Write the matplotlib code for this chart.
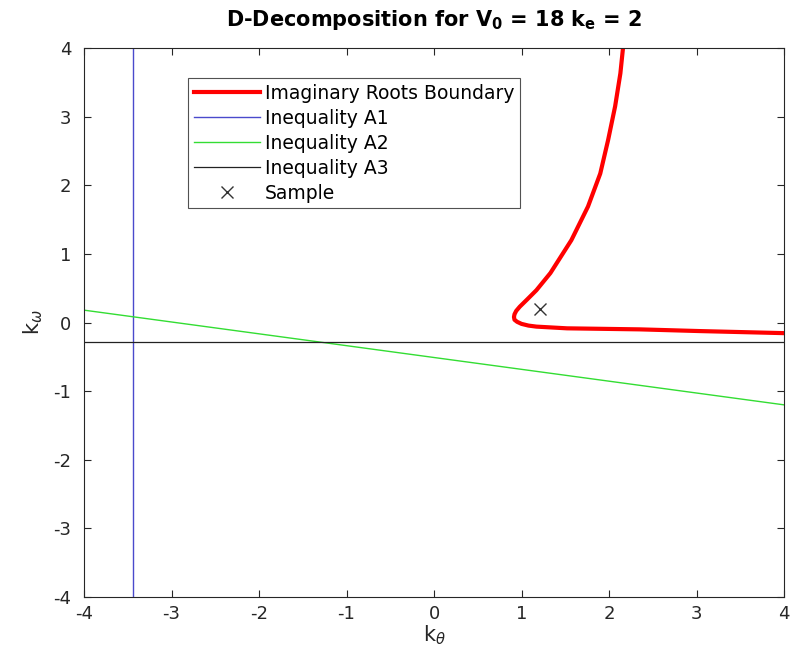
import matplotlib
matplotlib.use("Agg")
import matplotlib.pyplot as plt

# Imaginary roots boundary
boundary_kth = [2.16, 2.13, 2.07, 1.99, 1.90, 1.76, 1.57, 1.33, 1.17, 1.06, 0.98, 0.94, 0.92, 0.914, 0.92, 0.95, 1.00, 1.08, 1.17, 1.52, 2.35, 3.04, 4.00]
boundary_kw = [4.00, 3.63, 3.15, 2.66, 2.17, 1.69, 1.20, 0.72, 0.47, 0.33, 0.23, 0.17, 0.12, 0.08, 0.04, 0.01, -0.02, -0.045, -0.06, -0.085, -0.10, -0.125, -0.155]

# Inequality A1: vertical line
a1_kth = -3.44
# Inequality A2: line endpoints
a2_kth = [-4.0, 4.0]
a2_kw = [0.18, -1.20]
# Inequality A3: horizontal line
a3_kw = -0.28
# Sample point
sample_kth = [1.21]
sample_kw = [0.20]

xticks = [-4, -3, -2, -1, 0, 1, 2, 3, 4]
yticks = [-4, -3, -2, -1, 0, 1, 2, 3, 4]

plt.rcParams['font.family'] = ['DejaVu Sans']
plt.rcParams['axes.unicode_minus'] = False
fig = plt.figure(figsize=(7.94, 6.72), dpi=100)
ax = fig.add_axes([84/794, 75/672, 700/794, 549/672])

ax.plot(boundary_kth, boundary_kw, color='#ff0000', lw=3, label='Imaginary Roots Boundary',
        solid_joinstyle='round')
ax.axvline(a1_kth, color='#4a4acc', lw=1, label='Inequality A1')
ax.plot(a2_kth, a2_kw, color='#33dd33', lw=1, label='Inequality A2')
ax.axhline(a3_kw, color='#222222', lw=0.9, label='Inequality A3')
ax.plot(sample_kth, sample_kw, 'x', color='#333333', ms=8, mew=1, ls='none', label='Sample')

ax.set_xlim(-4, 4)
ax.set_ylim(-4, 4)
ax.set_xticks(xticks)
ax.set_yticks(yticks)
ax.tick_params(direction='in', top=True, right=True, labelsize=13, colors='#262626', length=5)
ax.tick_params(axis='y', pad=9)
ax.tick_params(axis='x', pad=6)
for s in ax.spines.values():
    s.set_color('#262626')
    s.set_linewidth(0.8)

ax.set_xlabel(r'k$_\theta$', fontsize=15, color='#262626', labelpad=0)
ax.set_ylabel(r'k$_\omega$', fontsize=15, color='#262626', labelpad=6)
ax.set_title(r'D-Decomposition for V$_\mathbf{0}$ = 18 k$_\mathbf{e}$ = 2', fontsize=15, fontweight='bold', pad=16)

leg = ax.legend(loc='upper left', bbox_to_anchor=(0.149, 0.945), fontsize=13.5, frameon=True, fancybox=False,
                edgecolor='#262626', handlelength=3.5, handletextpad=0.3, borderpad=0.3, labelspacing=0.32,
                borderaxespad=0)
leg.get_frame().set_linewidth(0.8)

fig.savefig('out.png', dpi=100)
